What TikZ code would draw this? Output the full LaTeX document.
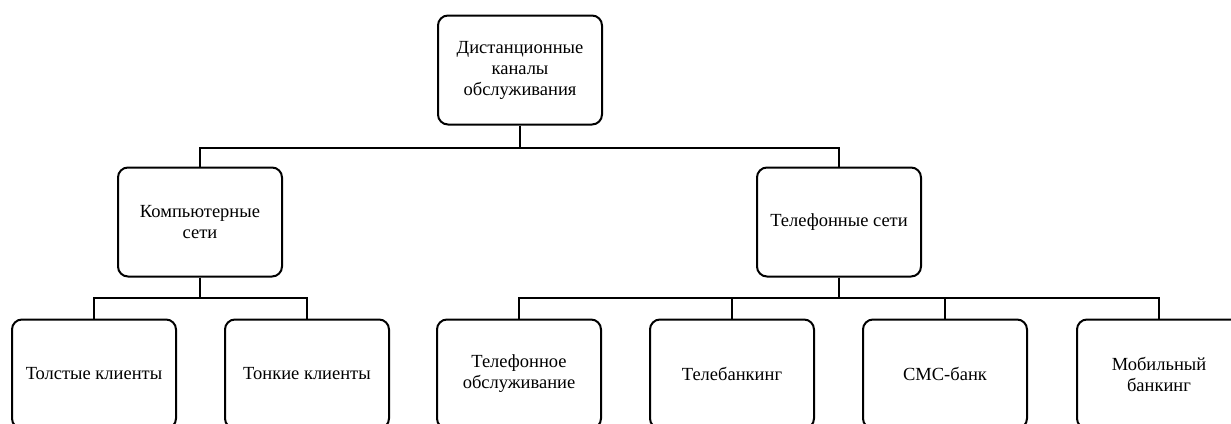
\documentclass[tikz,border=0pt]{standalone}
\usepackage{fontspec}
\setmainfont{Liberation Serif}
\usepackage{tikz}
\tikzstyle{box}=[draw, rounded corners=10pt, line width=2pt, minimum width=164pt, minimum height=109pt, align=center, inner sep=2pt, font=\fontsize{18.5}{21}\selectfont]
\tikzstyle{edge}=[line width=2pt]

\begin{document}
\begin{tikzpicture}[x=1pt,y=-1pt]
				\path[use as bounding box] (0,0) rectangle (1231,423);
				\clip (0,0) rectangle (1231,423);
				
				\node[box] (root) at (520,70) {Дистанционные\\каналы\\обслуживания};
				
				\node[box] (comp) at (200,222) {Компьютерные\\сети};
				\node[box] (phone) at (839,222) {Телефонные сети};
				
				\node[box] (fat) at (94,374) {Толстые клиенты};
				\node[box] (thin) at (307,374) {Тонкие клиенты};
				\node[box] (call) at (519,374) {Телефонное\\обслуживание};
				\node[box] (teleb) at (732,374) {Телебанкинг};
				\node[box] (sms) at (945,374) {СМС-банк};
				\node[box] (mob) at (1159,374) {Мобильный\\банкинг};
				
				
				\draw[edge] (root.south) -- ++(0,22) -| (comp.north);
				\draw[edge] (root.south) -- ++(0,22) -| (phone.north);
				
				\draw[edge] (comp.south) -- ++(0,20) -| (fat.north);
				\draw[edge] (comp.south) -- ++(0,20) -| (thin.north);
				
				\foreach \leaf in {call,teleb,sms,mob}
					\draw[edge] (phone.south) -- ++(0,20) -| (\leaf.north);
			\end{tikzpicture}
\end{document}
